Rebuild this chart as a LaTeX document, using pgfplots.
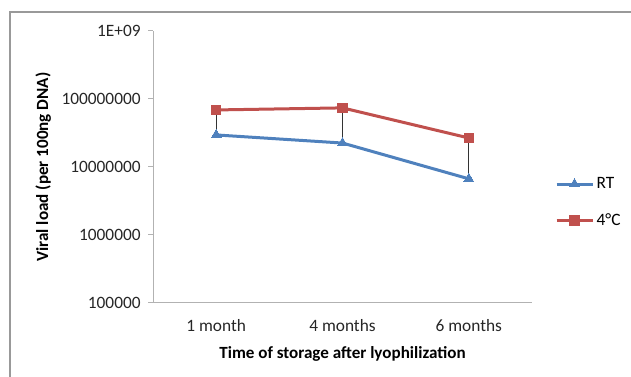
\documentclass[border=0pt]{standalone}
\usepackage{pgfplots}
\pgfplotsset{compat=1.18}
\usepackage{fontspec}
\setmainfont{Carlito}
\definecolor{rtblue}{HTML}{4F81BD}
\definecolor{cred}{HTML}{C0504D}
\begin{document}
\begin{tikzpicture}[x=0.75pt,y=0.75pt]
\path[use as bounding box] (0,0) rectangle (631,377);
\draw[black!40, line width=1.5pt] (10,0) -- (10,365) -- (631,365);
\begin{axis}[
  at={(114.75pt,55.5pt)}, anchor=south west,
  scale only axis, width=284.25pt, height=204pt,
  xmin=-0.5, xmax=2.5,
  ymode=log, ymin=1e5, ymax=1e9, log basis y=10,
  axis x line*=bottom, axis y line*=left,
  axis line style={draw=black!30, line width=0.75pt},
  xtick={0,1,2}, xticklabels={1 month,4 months,6 months},
  x tick style={draw=none},
  ytick={1e5,1e6,1e7,1e8,1e9},
  yticklabels={100000,1000000,10000000,100000000,1E+09},
  yminorticks=false,
  y tick style={draw=black!30, line width=0.75pt},
  tick align=outside, major tick length=3.75pt,
  tick label style={font=\fontsize{13}{15}\selectfont, text=black!85},
  xticklabel style={yshift=-5pt},
  yticklabel style={xshift=-2pt},
  xlabel={\textbf{Time of storage after lyophilization}},
  ylabel={\textbf{Viral load (per 100ng DNA)}},
  label style={font=\fontsize{12.8}{15}\selectfont, text=black},
  xlabel style={yshift=-4pt},
  ylabel style={yshift=1pt},
  legend style={at={(1.06,0.37)}, anchor=west, draw=none, fill=none,
    font=\fontsize{13}{15}\selectfont, row sep=13pt, inner sep=0pt},
  legend cell align=left,
  legend image code/.code={\draw[mark repeat=2,mark phase=2] plot coordinates {(0pt,0pt)(13.5pt,0pt)(27pt,0pt)};},
]
\addplot[rtblue, line width=2.25pt, mark=triangle*, mark size=4.2pt, mark options={fill=rtblue, line width=0pt}]
  coordinates {(0,2.96e7)(1,2.25e7)(2,6.7e6)};
\addlegendentry{RT}
\addplot[cred, line width=2.25pt, mark=square*, mark size=3.6pt, mark options={fill=cred, line width=0pt}]
  coordinates {(0,6.9e7)(1,7.4e7)(2,2.67e7)};
\addlegendentry{4°C}
\addplot[black!80, line width=0.75pt, forget plot] coordinates {(0,2.96e7)(0,6.9e7)};
\addplot[black!80, line width=0.75pt, forget plot] coordinates {(1,2.25e7)(1,7.4e7)};
\addplot[black!80, line width=0.75pt, forget plot] coordinates {(2,6.7e6)(2,2.67e7)};
\end{axis}
\end{tikzpicture}
\end{document}
